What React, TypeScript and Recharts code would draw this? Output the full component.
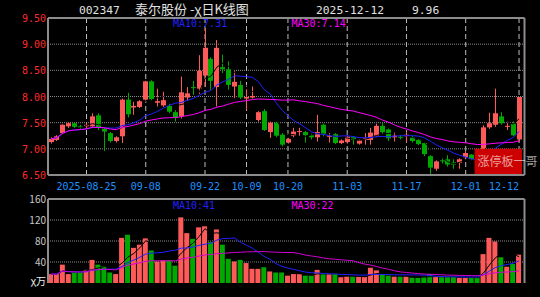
import React from "react";
import {
  ComposedChart,
  Bar,
  Line,
  XAxis,
  YAxis,
  CartesianGrid,
  ReferenceArea,
  Cell,
} from "recharts";

// 80 trading days, 2025-08-15 .. 2025-12-12
const dates = [
  "2025-08-15", "2025-08-18", "2025-08-19", "2025-08-20", "2025-08-21", "2025-08-22",
  "2025-08-25", "2025-08-26", "2025-08-27", "2025-08-28", "2025-08-29",
  "2025-09-01", "2025-09-02", "2025-09-03", "2025-09-04", "2025-09-05",
  "2025-09-08", "2025-09-09", "2025-09-10", "2025-09-11", "2025-09-12",
  "2025-09-15", "2025-09-16", "2025-09-17", "2025-09-18", "2025-09-19",
  "2025-09-22", "2025-09-23", "2025-09-24", "2025-09-25", "2025-09-26",
  "2025-09-29", "2025-09-30", "2025-10-09", "2025-10-10",
  "2025-10-13", "2025-10-14", "2025-10-15", "2025-10-16", "2025-10-17",
  "2025-10-20", "2025-10-21", "2025-10-22", "2025-10-23", "2025-10-24",
  "2025-10-27", "2025-10-28", "2025-10-29", "2025-10-30", "2025-10-31",
  "2025-11-03", "2025-11-04", "2025-11-05", "2025-11-06", "2025-11-07",
  "2025-11-10", "2025-11-11", "2025-11-12", "2025-11-13", "2025-11-14",
  "2025-11-17", "2025-11-18", "2025-11-19", "2025-11-20", "2025-11-21",
  "2025-11-24", "2025-11-25", "2025-11-26", "2025-11-27", "2025-11-28",
  "2025-12-01", "2025-12-02", "2025-12-03", "2025-12-04", "2025-12-05",
  "2025-12-08", "2025-12-09", "2025-12-10", "2025-12-11", "2025-12-12",
];

const opens = [
  7.13, 7.17, 7.3, 7.43, 7.49, 7.43, 7.43, 7.43, 7.64, 7.38,
  7.3, 7.15, 7.24, 7.94, 7.79, 7.8, 7.94, 8.29, 7.88, 7.83,
  7.82, 7.7, 7.62, 7.98, 8.18, 8.15, 8.4, 8.72, 8.18, 8.56,
  8.52, 8.19, 8.22, 7.96, 7.98, 7.55, 7.72, 7.32, 7.5, 7.27,
  7.12, 7.25, 7.32, 7.32, 7.26, 7.22, 7.46, 7.23, 7.28, 7.11,
  7.13, 7.22, 7.1, 7.17, 7.17, 7.25, 7.44, 7.37, 7.22, 7.23,
  7.24, 7.22, 7.17, 7.11, 6.86, 6.62, 6.78, 6.8, 6.74, 6.73,
  6.84, 6.89, 6.92, 6.9, 7.41, 7.46, 7.62, 7.42, 7.48, 7.18,
];

const highs = [
  7.22, 7.26, 7.47, 7.5, 7.5, 7.46, 7.5, 7.68, 7.68, 7.4,
  7.32, 7.24, 7.96, 8.07, 7.9, 7.93, 8.3, 8.31, 8.15, 8.09,
  7.86, 7.74, 8.38, 8.18, 8.3, 8.79, 9.31, 8.75, 9.08, 8.8,
  8.67, 8.48, 8.3, 8.14, 8.19, 7.72, 7.76, 7.52, 7.52, 7.3,
  7.21, 7.4, 7.4, 7.34, 7.29, 7.65, 7.48, 7.3, 7.3, 7.18,
  7.25, 7.24, 7.18, 7.3, 7.4, 7.48, 7.5, 7.39, 7.32, 7.26,
  7.33, 7.25, 7.19, 7.13, 6.88, 6.78, 6.83, 6.88, 6.8, 6.82,
  6.96, 6.9, 6.95, 7.45, 7.69, 8.15, 7.7, 7.52, 7.52, 7.99,
];

const lows = [
  7.1, 7.15, 7.28, 7.4, 7.4, 7.38, 7.38, 7.4, 7.36, 6.96,
  7.12, 7.12, 7.11, 7.6, 7.65, 7.78, 7.9, 7.92, 7.81, 7.8,
  7.68, 7.52, 7.58, 7.92, 8.03, 8.05, 8.18, 8.13, 7.81, 8.45,
  8.13, 7.97, 7.95, 7.74, 7.96, 7.52, 7.34, 7.21, 7.22, 7.05,
  7.1, 7.22, 7.24, 7.12, 7.18, 7.14, 7.24, 7.12, 7.09, 7.09,
  7.1, 7.08, 7.08, 7.08, 7.08, 7.23, 7.28, 7.15, 7.14, 7.18,
  7.12, 7.12, 7.07, 6.86, 6.5, 6.58, 6.72, 6.66, 6.62, 6.62,
  6.8, 6.78, 6.82, 6.88, 7.38, 7.42, 7.46, 7.36, 7.24, 7.14,
];

const closes = [
  7.19, 7.24, 7.46, 7.49, 7.42, 7.41, 7.46, 7.62, 7.4, 7.33,
  7.15, 7.22, 7.94, 7.66, 7.82, 7.91, 8.29, 7.95, 7.91, 7.93,
  7.71, 7.6, 8.08, 8.06, 8.16, 8.49, 8.93, 8.3, 8.93, 8.52,
  8.22, 8.28, 7.98, 7.99, 8.01, 7.7, 7.36, 7.5, 7.25, 7.08,
  7.19, 7.33, 7.34, 7.26, 7.22, 7.32, 7.27, 7.26, 7.11, 7.16,
  7.23, 7.17, 7.16, 7.2, 7.31, 7.44, 7.32, 7.2, 7.25, 7.21,
  7.27, 7.15, 7.09, 6.9, 6.64, 6.76, 6.76, 6.7, 6.7, 6.8,
  6.92, 6.8, 6.86, 7.41, 7.49, 7.68, 7.49, 7.44, 7.26, 7.99,
];

// volume, 万手
const volumes = [
  17, 17, 35, 17, 20, 20, 25, 44, 35, 32,
  20, 17, 86, 92, 67, 73, 85, 62, 41, 43,
  43, 33, 125, 95, 84, 106, 108, 78, 102, 73,
  46, 41, 44, 38, 27, 27, 30, 22, 20, 20,
  14, 17, 17, 14, 14, 25, 17, 17, 17, 11,
  12, 12, 12, 12, 29, 24, 17, 14, 12, 12,
  12, 10, 10, 12, 17, 12, 11, 11, 11, 10,
  10, 10, 10, 55, 86, 79, 49, 31, 36, 54,
];

const priceTicks = [6.5, 7, 7.5, 8, 8.5, 9, 9.5];
const volumeTicks = [0, 40, 80, 120, 160];
const dateTicks = [
  "2025-08-25", "2025-09-08", "2025-09-22", "2025-10-09", "2025-10-20",
  "2025-11-03", "2025-11-17", "2025-12-01", "2025-12-12",
];

const UP = "#ff5a5a";
const DOWN = "#00a800";
const MA5 = "#000000";
const MA10 = "#2020ff";
const MA30 = "#ff00ff";
const FRAME = { stroke: "#8c8c8c", strokeWidth: 2 };
const MONO = "DejaVu Sans Mono, monospace";
const CJK = "Noto Sans CJK SC, DejaVu Sans Mono, sans-serif";

function movingAvg(values: number[], n: number) {
  return values.map((_, i) => {
    const win = values.slice(Math.max(0, i - n + 1), i + 1);
    return win.reduce((a, b) => a + b, 0) / win.length;
  });
}

const ma5 = movingAvg(closes, 5);
const ma10 = movingAvg(closes, 10);
const ma30 = movingAvg(closes, 30);
const vma5 = movingAvg(volumes, 5);
const vma10 = movingAvg(volumes, 10);
const vma30 = movingAvg(volumes, 30);

const rows = dates.map((date, i) => ({
  date,
  open: opens[i],
  high: highs[i],
  low: lows[i],
  close: closes[i],
  range: [lows[i], highs[i]],
  up: closes[i] >= opens[i],
  vol: volumes[i],
  ma5: ma5[i],
  ma10: ma10[i],
  ma30: ma30[i],
  vma5: vma5[i],
  vma10: vma10[i],
  vma30: vma30[i],
}));

function Candle(props: any) {
  const { x, y, width, height, payload } = props;
  if (!payload) return null;
  const top = Math.min(y, y + height);
  const h = Math.abs(height);
  const span = payload.high - payload.low || 1;
  const py = (v: number) => top + ((payload.high - v) / span) * h;
  const color = payload.up ? UP : DOWN;
  const cx = Math.round(x + width / 2) + 0.5;
  const b1 = py(Math.max(payload.open, payload.close));
  const b2 = py(Math.min(payload.open, payload.close));
  return (
    <g>
      <line x1={cx} x2={cx} y1={top} y2={top + h} stroke={color} strokeWidth={1} />
      <rect x={cx - 2.5} y={b1} width={5} height={Math.max(b2 - b1, 1)} fill={color} />
    </g>
  );
}

function PriceTick(props: any) {
  const { x, y, payload } = props;
  return (
    <text x={x} y={y} dy={4} textAnchor="end" fill="#ff2a2a" fontSize={10} fontFamily={MONO}>
      {Number(payload.value).toFixed(2)}
    </text>
  );
}

function VolumeTick(props: any) {
  const { x, y, payload } = props;
  const zero = payload.value === 0;
  return (
    <text
      x={x}
      y={y}
      dy={zero ? 2 : 4}
      textAnchor="end"
      fill={zero ? "#f0f0f0" : "#c8c8c8"}
      fontSize={10}
      fontFamily={CJK}
    >
      {zero ? "χ万" : payload.value}
    </text>
  );
}

function DateTick(props: any) {
  const { x, y, payload } = props;
  const v: string = payload.value;
  const first = v === dateTicks[0];
  const last = v === dateTicks[dateTicks.length - 1];
  return (
    <text
      x={x}
      y={y}
      dy={13}
      textAnchor={last ? "end" : "middle"}
      fill="#1e90ff"
      fontSize={10}
      fontFamily={MONO}
    >
      {first ? v : v.slice(5)}
    </text>
  );
}

export default function App() {
  return (
    <div
      style={{
        position: "absolute",
        left: 0,
        top: 0,
        width: 540,
        height: 297,
        background: "#000",
        overflow: "hidden",
      }}
    >
      <div style={{ position: "absolute", left: 0, top: 0 }}>
        <ComposedChart
          width={540}
          height={195}
          data={rows}
          margin={{ top: 17, right: 14.5, bottom: 0, left: 0 }}
          barCategoryGap={0}
        >
          <CartesianGrid
            vertical={false}
            stroke="#8a8a8a"
            strokeDasharray="1 1"
            horizontalValues={[7, 7.5, 8, 8.5, 9]}
          />
          <CartesianGrid horizontal={false} stroke="#bdbdbd" strokeDasharray="5 3" />
          <XAxis
            dataKey="date"
            ticks={dateTicks}
            interval={0}
            tickLine={false}
            tickSize={0}
            axisLine={FRAME}
            height={20}
            padding={{ left: 0, right: 2.5 }}
            tick={<DateTick />}
          />
          <XAxis
            xAxisId="top"
            dataKey="date"
            orientation="top"
            height={1}
            tick={false}
            tickLine={false}
            axisLine={FRAME}
          />
          <YAxis
            type="number"
            domain={[6.5, 9.5]}
            ticks={priceTicks}
            interval={0}
            width={48}
            tickLine={false}
            tickSize={0}
            tickMargin={2}
            axisLine={FRAME}
            tick={<PriceTick />}
            allowDataOverflow
          />
          <YAxis
            yAxisId="r"
            orientation="right"
            type="number"
            domain={[6.5, 9.5]}
            width={1}
            tick={false}
            tickLine={false}
            axisLine={FRAME}
          />
          <Bar dataKey="range" barSize={5} shape={Candle} isAnimationActive={false} />
          <Line dataKey="ma5" stroke={MA5} strokeWidth={1} dot={false} activeDot={false} isAnimationActive={false} />
          <Line dataKey="ma10" stroke={MA10} strokeWidth={1} dot={false} activeDot={false} isAnimationActive={false} />
          <Line dataKey="ma30" stroke={MA30} strokeWidth={1} dot={false} activeDot={false} isAnimationActive={false} />
          <ReferenceArea
            x1={dates[72]}
            x2={dates[79]}
            y1={6.5}
            y2={7}
            fill="#cc0000"
            fillOpacity={1}
            stroke="none"
            zIndex={450}
            label={{
              value: "涨停板一哥",
              position: "insideLeft",
              offset: 3,
              fill: "#ffffff",
              fillOpacity: 0.62,
              fontSize: 12,
              fontFamily: CJK,
            }}
          />
        </ComposedChart>
      </div>

      <div style={{ position: "absolute", left: 0, top: 185 }}>
        <ComposedChart
          width={540}
          height={112}
          data={rows}
          margin={{ top: 13, right: 14.5, bottom: 0, left: 0 }}
          barCategoryGap={0}
        >
          <CartesianGrid
            vertical={false}
            stroke="#8a8a8a"
            strokeDasharray="1 1"
            horizontalValues={[40, 80, 120]}
          />
          <CartesianGrid horizontal={false} stroke="#bdbdbd" strokeDasharray="5 3" />
          <XAxis
            dataKey="date"
            ticks={dateTicks}
            interval={0}
            tick={false}
            tickLine={false}
            axisLine={false}
            height={14}
            padding={{ left: 0, right: 2.5 }}
          />
          <XAxis
            xAxisId="top"
            dataKey="date"
            orientation="top"
            height={1}
            tick={false}
            tickLine={false}
            axisLine={FRAME}
          />
          <YAxis
            type="number"
            domain={[0, 160]}
            ticks={volumeTicks}
            interval={0}
            width={48}
            tickLine={false}
            tickSize={0}
            tickMargin={2}
            axisLine={FRAME}
            tick={<VolumeTick />}
          />
          <YAxis
            yAxisId="r"
            orientation="right"
            type="number"
            domain={[0, 160]}
            width={1}
            tick={false}
            tickLine={false}
            axisLine={FRAME}
          />
          <Bar dataKey="vol" barSize={5} isAnimationActive={false}>
            {rows.map((r) => (
              <Cell key={r.date} fill={r.up ? UP : DOWN} />
            ))}
          </Bar>
          <Line dataKey="vma5" stroke={MA5} strokeWidth={1} dot={false} activeDot={false} isAnimationActive={false} />
          <Line dataKey="vma10" stroke={MA10} strokeWidth={1} dot={false} activeDot={false} isAnimationActive={false} />
          <Line dataKey="vma30" stroke="#d000d0" strokeWidth={1} dot={false} activeDot={false} isAnimationActive={false} />
        </ComposedChart>
      </div>

      <svg
        width={540}
        height={297}
        style={{ position: "absolute", left: 0, top: 0, pointerEvents: "none" }}
      >
        <text x={79} y={14} fill="#e0e0e0" fontSize={11.3} fontFamily={MONO}>002347</text>
        <text x={135} y={14} fill="#e0e0e0" fontSize={13} fontFamily={CJK}>泰尔股份 -χ日K线图</text>
        <text x={316} y={14} fill="#e0e0e0" fontSize={11.3} fontFamily={MONO}>2025-12-12</text>
        <text x={412} y={14} fill="#e0e0e0" fontSize={11.3} fontFamily={MONO}>9.96</text>
        <text x={173} y={27} fill={MA10} fontSize={10} fontFamily={MONO}>MA10:7.31</text>
        <text x={291.5} y={27} fill={MA30} fontSize={10} fontFamily={MONO}>MA30:7.14</text>
        <text x={173} y={208.5} fill={MA10} fontSize={10} fontFamily={MONO}>MA10:41</text>
        <text x={291.5} y={208.5} fill={MA30} fontSize={10} fontFamily={MONO}>MA30:22</text>
      </svg>
    </div>
  );
}
